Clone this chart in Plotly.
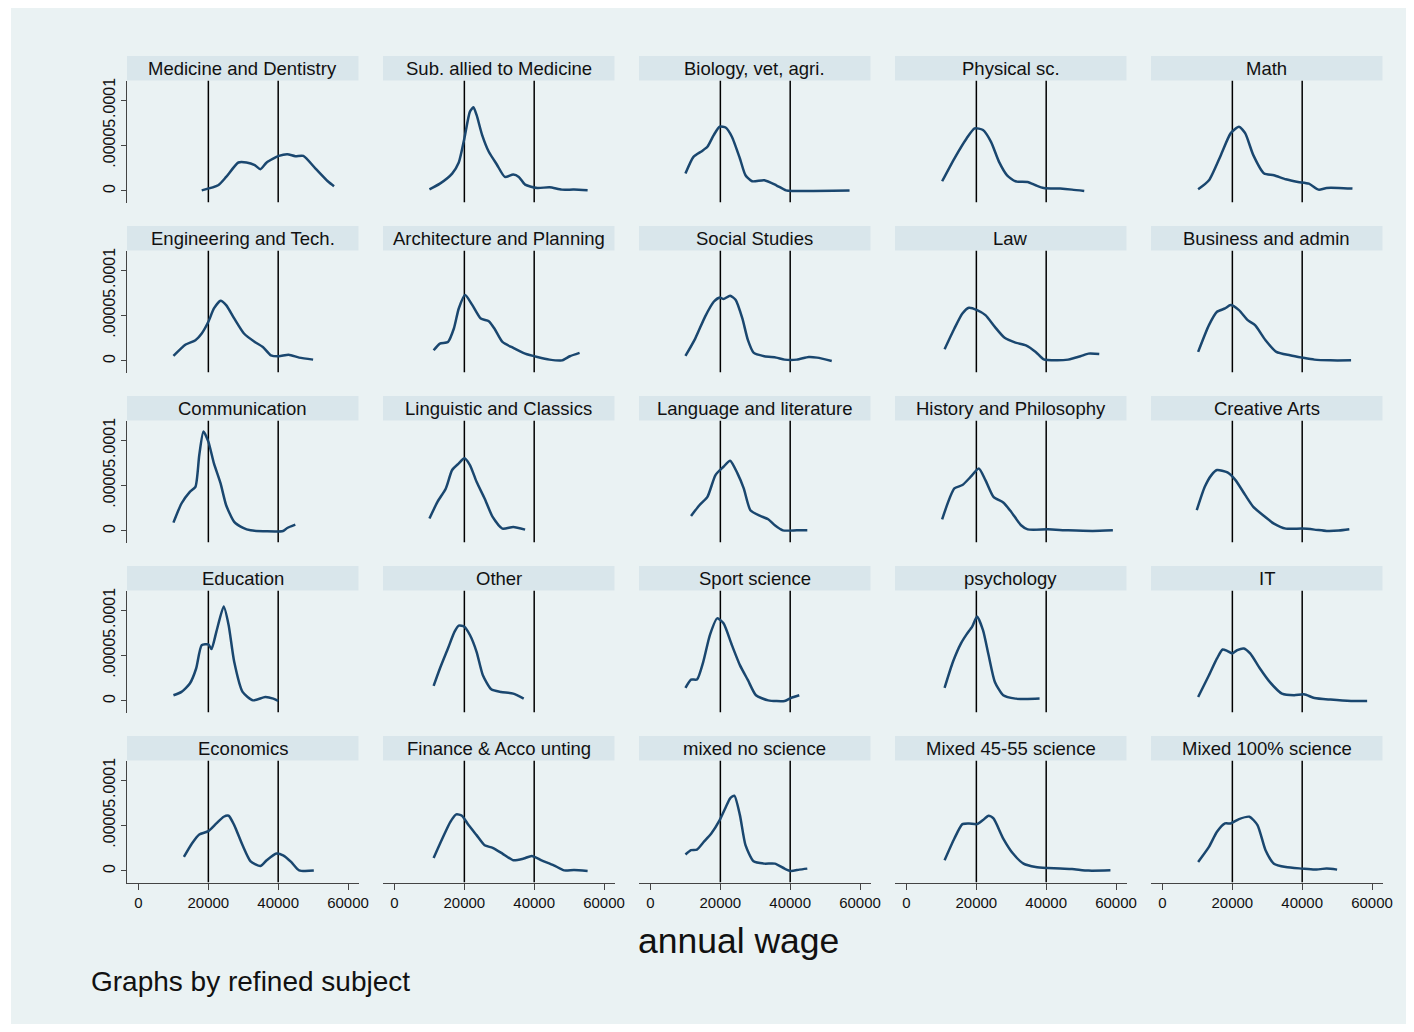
import plotly.graph_objects as go

# ---------------- data (x: annual wage in £ thousands, y: kernel density in units of 1e-5) -------------
MED_X = [18.1, 22.8, 25.1, 28.6, 30.9, 33.3, 34.9, 36.7, 40.2, 42.6, 44.9, 47.2, 50.7, 54.2, 56.0]
MED_Y = [0.07, 0.63, 1.55, 3.14, 3.14, 2.84, 2.40, 3.14, 3.87, 4.06, 3.84, 3.87, 2.47, 1.07, 0.52]

SUB_X = [10.0, 13.0, 16.5, 18.4, 20.0, 21.6, 22.6, 23.5, 25.1, 27.0, 29.3, 31.6, 34.0, 35.6, 37.4, 40.9, 44.4, 47.9, 51.4, 55.3]
SUB_Y = [0.18, 0.81, 1.92, 3.14, 5.79, 8.75, 9.23, 8.38, 6.16, 4.32, 2.92, 1.55, 1.81, 1.55, 0.70, 0.33, 0.41, 0.15, 0.15, 0.07]

BIO_X = [10.0, 12.3, 14.7, 16.3, 18.1, 19.8, 21.6, 23.3, 25.6, 27.2, 29.1, 32.6, 36.0, 38.8, 40.7, 57.0]
BIO_Y = [1.92, 3.76, 4.39, 4.87, 6.16, 7.08, 6.97, 5.98, 3.58, 1.73, 1.07, 1.18, 0.63, 0.07, 0.00, 0.04]

PHY_X = [10.2, 13.7, 17.2, 19.5, 21.9, 24.2, 26.5, 28.8, 31.2, 34.7, 37.0, 39.3, 44.0, 47.4, 50.9]
PHY_Y = [1.07, 3.58, 5.79, 6.90, 6.72, 5.42, 3.21, 1.73, 1.07, 1.00, 0.63, 0.33, 0.26, 0.15, 0.00]

MATH_X = [10.2, 13.3, 16.7, 19.5, 21.9, 23.7, 26.0, 29.1, 31.9, 35.3, 38.8, 41.9, 44.7, 47.0, 50.5, 54.4]
MATH_Y = [0.18, 1.18, 3.95, 6.35, 7.08, 6.35, 3.95, 1.92, 1.73, 1.29, 1.00, 0.81, 0.15, 0.33, 0.33, 0.26]

ENG_X = [10.0, 13.5, 16.3, 18.1, 20.0, 21.6, 23.5, 25.1, 27.4, 30.2, 33.3, 35.6, 37.9, 40.2, 43.0, 46.0, 50.0]
ENG_Y = [0.55, 1.81, 2.29, 3.03, 4.32, 5.79, 6.64, 6.16, 4.69, 3.03, 2.10, 1.55, 0.63, 0.52, 0.70, 0.37, 0.15]

ARCH_X = [11.2, 13.0, 15.3, 17.0, 18.4, 20.2, 22.3, 24.7, 27.0, 28.6, 30.9, 34.0, 37.4, 40.9, 44.4, 47.9, 50.2, 53.0]
ARCH_Y = [1.18, 1.92, 2.10, 3.58, 5.79, 7.27, 6.16, 4.69, 4.39, 3.58, 2.10, 1.44, 0.81, 0.44, 0.15, 0.07, 0.52, 0.89]

SOC_X = [10.0, 12.8, 15.6, 18.1, 19.8, 20.9, 22.8, 24.4, 26.3, 27.9, 29.5, 32.6, 36.0, 38.4, 41.9, 45.3, 47.7, 51.9]
SOC_Y = [0.55, 2.47, 4.87, 6.53, 7.01, 6.83, 7.20, 6.72, 4.69, 2.29, 0.92, 0.52, 0.37, 0.15, 0.15, 0.44, 0.37, 0.00]

LAW_X = [10.9, 13.7, 16.0, 17.9, 20.2, 22.6, 25.3, 28.1, 31.2, 34.2, 37.0, 39.3, 42.8, 46.3, 49.8, 52.1, 55.2]
LAW_Y = [1.29, 3.58, 5.24, 5.87, 5.61, 5.06, 3.76, 2.55, 2.03, 1.73, 1.00, 0.18, 0.07, 0.15, 0.52, 0.81, 0.77]

BUS_X = [10.2, 13.3, 15.6, 17.9, 19.5, 21.9, 24.4, 26.5, 29.5, 32.6, 36.5, 40.0, 43.5, 48.1, 54.0]
BUS_Y = [1.00, 3.95, 5.42, 5.79, 6.16, 5.61, 4.50, 3.95, 2.29, 1.00, 0.63, 0.37, 0.15, 0.07, 0.07]

COM_X = [10.0, 12.3, 14.7, 16.3, 17.4, 18.6, 20.0, 21.6, 23.5, 25.1, 27.4, 29.8, 32.1, 41.4, 42.6, 44.9]
COM_Y = [0.92, 3.03, 4.32, 4.87, 8.38, 10.96, 9.85, 7.45, 5.24, 2.84, 1.00, 0.37, 0.07, 0.00, 0.33, 0.70]

LING_X = [10.0, 12.3, 14.7, 16.5, 18.4, 20.0, 21.6, 23.5, 25.8, 28.1, 30.9, 34.0, 37.4]
LING_Y = [1.37, 3.21, 4.69, 6.72, 7.45, 8.01, 7.27, 5.42, 3.58, 1.55, 0.26, 0.44, 0.15]

LANG_X = [11.6, 14.0, 16.3, 18.6, 20.9, 22.8, 24.9, 26.7, 28.6, 31.4, 33.7, 35.6, 37.9, 41.9, 44.9]
LANG_Y = [1.66, 2.84, 3.76, 6.16, 7.08, 7.75, 6.35, 4.69, 2.29, 1.66, 1.29, 0.63, 0.07, 0.07, 0.07]

HIST_X = [10.2, 13.7, 16.0, 18.4, 20.7, 22.6, 24.9, 27.7, 30.0, 32.8, 34.7, 40.5, 46.3, 53.3, 59.1]
HIST_Y = [1.29, 4.69, 5.06, 5.98, 6.90, 5.61, 3.76, 3.14, 2.10, 0.63, 0.18, 0.18, 0.07, 0.00, 0.07]

ART_X = [9.8, 12.1, 14.0, 15.6, 18.6, 20.9, 23.7, 26.0, 28.8, 31.9, 35.3, 40.0, 43.5, 47.0, 50.5, 53.5]
ART_Y = [2.29, 4.87, 6.16, 6.72, 6.46, 5.61, 3.95, 2.66, 1.73, 0.81, 0.26, 0.26, 0.15, 0.00, 0.04, 0.18]

EDU_X = [10.0, 12.3, 14.7, 16.5, 18.1, 20.0, 20.9, 22.3, 24.4, 25.8, 27.4, 29.8, 32.8, 36.3, 38.6, 40.0]
EDU_Y = [0.63, 1.00, 1.92, 3.58, 6.16, 6.24, 5.72, 7.64, 10.41, 8.38, 4.32, 1.00, 0.07, 0.44, 0.26, 0.00]

OTH_X = [11.2, 13.0, 15.3, 17.2, 18.4, 20.0, 21.6, 23.5, 25.3, 27.7, 30.5, 34.0, 37.0]
OTH_Y = [1.66, 3.58, 5.79, 7.64, 8.30, 8.19, 7.27, 5.42, 2.84, 1.29, 1.00, 0.81, 0.26]

SPO_X = [10.0, 11.6, 13.3, 15.1, 17.0, 19.1, 20.9, 23.3, 25.6, 27.9, 30.2, 33.7, 38.4, 40.2, 42.6]
SPO_Y = [1.44, 2.36, 2.36, 4.32, 7.27, 9.11, 8.56, 6.16, 3.95, 2.29, 0.63, 0.07, 0.00, 0.33, 0.63]

PSY_X = [10.9, 13.3, 15.6, 17.2, 18.8, 20.2, 21.9, 23.5, 25.3, 27.7, 31.2, 34.7, 38.1]
PSY_Y = [1.44, 4.32, 6.35, 7.34, 8.19, 9.30, 7.82, 5.06, 2.10, 0.63, 0.26, 0.22, 0.26]

IT_X = [10.2, 13.3, 15.6, 17.2, 18.6, 20.0, 21.4, 23.3, 25.1, 27.9, 30.7, 34.2, 37.7, 40.5, 43.5, 48.1, 54.0, 58.6]
IT_Y = [0.44, 2.84, 4.69, 5.68, 5.50, 5.24, 5.61, 5.79, 5.24, 3.58, 2.10, 0.81, 0.63, 0.74, 0.33, 0.15, 0.00, 0.00]

ECO_X = [13.0, 15.3, 17.4, 20.0, 22.3, 24.4, 25.8, 27.4, 29.8, 32.1, 34.9, 36.7, 39.5, 41.4, 43.7, 46.0, 50.2]
ECO_Y = [1.55, 3.03, 4.02, 4.39, 5.24, 5.98, 6.09, 5.06, 2.84, 1.07, 0.55, 1.18, 1.92, 1.73, 1.00, 0.07, 0.04]

FIN_X = [11.2, 13.7, 16.0, 17.7, 19.3, 21.2, 23.5, 25.8, 28.1, 30.9, 34.0, 37.0, 39.3, 42.1, 45.6, 48.6, 51.4, 55.3]
FIN_Y = [1.44, 3.58, 5.42, 6.24, 6.09, 5.06, 3.95, 2.84, 2.55, 1.92, 1.18, 1.37, 1.66, 1.18, 0.63, 0.07, 0.11, 0.00]

MNS_X = [10.0, 11.6, 13.3, 15.1, 17.4, 19.8, 21.6, 22.8, 24.0, 25.6, 27.2, 29.5, 32.6, 35.6, 38.4, 40.2, 42.6, 44.9]
MNS_Y = [1.81, 2.29, 2.36, 3.14, 4.13, 5.61, 7.08, 8.01, 8.30, 6.16, 2.84, 1.07, 0.81, 0.81, 0.26, 0.00, 0.15, 0.26]

M45_X = [10.9, 13.7, 16.0, 17.9, 20.2, 21.9, 23.5, 24.9, 27.7, 30.5, 33.5, 37.0, 40.5, 44.0, 47.4, 52.1, 58.4]
M45_Y = [1.18, 3.58, 5.17, 5.24, 5.17, 5.61, 6.09, 5.79, 3.58, 1.92, 0.81, 0.44, 0.33, 0.26, 0.22, 0.04, 0.07]

M100_X = [10.2, 13.3, 15.6, 17.9, 19.5, 21.9, 24.9, 27.2, 29.5, 31.9, 35.3, 40.0, 43.5, 47.0, 50.0]
M100_Y = [1.00, 2.66, 4.32, 5.24, 5.24, 5.72, 5.98, 5.06, 2.29, 0.81, 0.44, 0.26, 0.15, 0.26, 0.15]

SUBJECTS = ["Medicine and Dentistry", "Sub. allied to Medicine", "Biology, vet, agri.", "Physical sc.", "Math",
            "Engineering and Tech.", "Architecture and Planning", "Social Studies", "Law", "Business and admin",
            "Communication", "Linguistic and Classics", "Language and literature", "History and Philosophy", "Creative Arts",
            "Education", "Other", "Sport science", "psychology", "IT",
            "Economics", "Finance & Acco unting", "mixed no science", "Mixed 45-55 science", "Mixed 100% science"]
SERIES = [(MED_X, MED_Y), (SUB_X, SUB_Y), (BIO_X, BIO_Y), (PHY_X, PHY_Y), (MATH_X, MATH_Y),
          (ENG_X, ENG_Y), (ARCH_X, ARCH_Y), (SOC_X, SOC_Y), (LAW_X, LAW_Y), (BUS_X, BUS_Y),
          (COM_X, COM_Y), (LING_X, LING_Y), (LANG_X, LANG_Y), (HIST_X, HIST_Y), (ART_X, ART_Y),
          (EDU_X, EDU_Y), (OTH_X, OTH_Y), (SPO_X, SPO_Y), (PSY_X, PSY_Y), (IT_X, IT_Y),
          (ECO_X, ECO_Y), (FIN_X, FIN_Y), (MNS_X, MNS_Y), (M45_X, M45_Y), (M100_X, M100_Y)]
REF_LINES = [20000, 40000]
X_TICKS = [0, 20000, 40000, 60000]
X_TICK_TEXT = ["0", "20000", "40000", "60000"]
Y_TICKS = [0, 0.00005, 0.0001]
Y_TICK_TEXT = ["0", ".00005", ".0001"]
X_RANGE = [-3300, 63000]
Y_RANGE = [-1.27e-5, 1.218e-4]

# ---------------- layout ----------------
OFF = 8                      # default body margin of the html page
W = 1414 - 2 * OFF
H = 1032 - 2 * OFF
BG = "#EAF2F3"
STRIP = "#D9E6EB"
NAVY = "#1A476F"
FONT = "Liberation Sans, Arial, sans-serif"
col_left_t = [127, 383, 639, 895, 1151]       # target page pixels
pw_t = 231.5
row_top_t = [80.5 + 170 * r for r in range(5)]
ph = 122
strip_h = 24.5


def px(t):
    return (t - OFF) / W


def py(t):
    return 1 - (t - OFF) / H


fig = go.Figure()
shapes = [dict(type="rect", xref="paper", yref="paper", x0=px(11), x1=1, y0=0, y1=1,
               fillcolor=BG, line_width=0, layer="below")]
annotations = []

for i, (name, (xs, ys)) in enumerate(zip(SUBJECTS, SERIES)):
    r, c = divmod(i, 5)
    n = i + 1
    sfx = "" if n == 1 else str(n)
    x0p, x1p = px(col_left_t[c]), px(col_left_t[c] + pw_t)
    y1p, y0p = py(row_top_t[r]), py(row_top_t[r] + ph)
    # reference lines at 20000 and 40000 (drawn as traces so they sit above the gridlines)
    for xv in REF_LINES:
        fig.add_trace(go.Scatter(x=[xv, xv], y=Y_RANGE, mode="lines", line=dict(color="black", width=1.5),
                                 xaxis="x" + sfx, yaxis="y" + sfx, showlegend=False, hoverinfo="skip",
                                 cliponaxis=True))
    fig.add_trace(go.Scatter(x=[v * 1000 for v in xs], y=[v * 1e-5 for v in ys], mode="lines",
                             line=dict(color=NAVY, width=2.5, shape="spline", smoothing=0.6),
                             xaxis="x" + sfx, yaxis="y" + sfx, showlegend=False, hoverinfo="skip"))
    bottom = (r == 4)
    left = (c == 0)
    fig.layout["xaxis" + sfx] = dict(domain=[x0p, x1p], anchor="y" + sfx, range=X_RANGE,
                                    tickvals=X_TICKS, ticktext=X_TICK_TEXT, showgrid=False, zeroline=False,
                                    showline=bottom, linecolor="#444", linewidth=1, automargin=False,
                                    ticks="outside" if bottom else "", ticklen=6, tickcolor="#444",
                                    showticklabels=bottom, tickfont=dict(size=15, color="#111", family=FONT))
    fig.layout["yaxis" + sfx] = dict(domain=[y0p, y1p], anchor="x" + sfx, range=Y_RANGE,
                                    tickvals=Y_TICKS, ticktext=Y_TICK_TEXT, showgrid=True, gridcolor=BG,
                                    gridwidth=2, zeroline=False, showline=left, linecolor="#444", linewidth=1,
                                    ticks="outside" if left else "", ticklen=5, tickcolor="#444",
                                    showticklabels=left, tickangle=-90, automargin=False,
                                    tickfont=dict(size=16, color="#111", family=FONT))
    shapes.append(dict(type="rect", xref="paper", yref="paper", x0=x0p, x1=x1p,
                       y0=y1p, y1=py(row_top_t[r] - strip_h), fillcolor=STRIP, line_width=0, layer="below"))
    annotations.append(dict(text=name, xref="paper", yref="paper", x=(x0p + x1p) / 2,
                            y=py(row_top_t[r] - strip_h / 2), xanchor="center", yanchor="middle",
                            showarrow=False, font=dict(size=18.5, color="#111", family=FONT)))

annotations.append(dict(text="annual wage", xref="paper", yref="paper", x=px(738), y=py(941),
                        xanchor="center", yanchor="middle", showarrow=False,
                        font=dict(size=35.5, color="#111", family=FONT)))
annotations.append(dict(text="Graphs by refined subject", xref="paper", yref="paper", x=px(89),
                        y=py(981), xanchor="left", yanchor="middle", showarrow=False,
                        font=dict(size=28, color="#111", family=FONT)))

fig.update_layout(width=W, height=H, margin=dict(l=0, r=0, t=0, b=0), paper_bgcolor="white",
                  plot_bgcolor="white", shapes=shapes, annotations=annotations, showlegend=False,
                  font=dict(family=FONT))
fig.write_html("out.html")
